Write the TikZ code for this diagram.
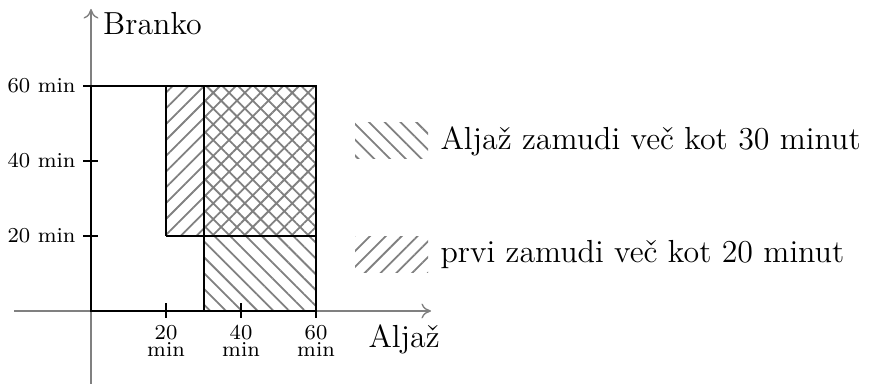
\documentclass[tikz,border=0pt]{standalone}
\usepackage{fontspec}
\usetikzlibrary{patterns.meta,arrows.meta}
\begin{document}
\begin{tikzpicture}[x=0.376pt,y=-0.376pt,
  axisline/.style={draw=gray, line width=0.5pt, -{To[length=3.6pt,width=5.6pt]}},
  framebox/.style={draw=black, line width=1.12pt},
  innerline/.style={draw=black, line width=0.75pt},
  tickmark/.style={draw=black, line width=0.56pt},
  hatchNE/.style={pattern={Lines[angle=45,distance=4.2pt,line width=0.68pt]}, pattern color=gray},
  hatchNW/.style={pattern={Lines[angle=-45,distance=4.2pt,line width=0.68pt]}, pattern color=gray},
  hatchX/.style={pattern={Hatch[angle=45,distance=4.2pt,line width=0.68pt]}, pattern color=gray},
  ylab/.style={anchor=east, inner sep=0pt, font=\fontsize{8}{9.5}\selectfont},
  xlab/.style={anchor=base, inner sep=0pt, font=\fontsize{8}{9.5}\selectfont},
  txt/.style={anchor=base west, inner sep=0pt, font=\fontsize{12}{14.5}\selectfont}]
\useasboundingbox (0,0) rectangle (880,385);

% coordinates of the plot
\coordinate (O) at (91,311);
\coordinate (A20) at (166,311);
\coordinate (A40) at (241,311);
\coordinate (A60) at (316,311);
\coordinate (B20) at (91,236);
\coordinate (B40) at (91,161);
\coordinate (B60) at (91,86);

% hatched regions
\path[hatchNE] (166,86) rectangle (204,236);
\path[hatchX] (204,86) rectangle (316,236);
\path[hatchNW] (204,236) rectangle (316,311);

% axes
\coordinate (xs) at (14,311);
\coordinate (xe) at (431,311);
\coordinate (ys) at (91,384);
\coordinate (ye) at (91,9);
\draw[axisline] (xs) -- (xe);
\draw[axisline] (ys) -- (ye);

% inner lines
\draw[innerline] (166,236) -- (166,86);
\draw[innerline] (166,236) -- (316,236);
\draw[innerline] (204,311) -- (204,86);

% frame
\draw[framebox] (O) rectangle (316,86);

% ticks
\foreach \c in {A20,A40,A60}{
  \draw[tickmark] (\c) ++(0,-7.5) -- ++(0,15);
}
\foreach \c in {B20,B40,B60}{
  \draw[tickmark] (\c) ++(-8,0) -- ++(15,0);
}

% tick labels
\node[ylab] (l60) at (76,86) {60 min};
\node[ylab] (l40) at (76,161) {40 min};
\node[ylab] (l20) at (76,236) {20 min};
\node[xlab] (n20) at (166,340) {20};
\node[xlab] (u20) at (166,356.5) {min};
\node[xlab] (n40) at (241,340) {40};
\node[xlab] (u40) at (241,356.5) {min};
\node[xlab] (n60) at (316,340) {60};
\node[xlab] (u60) at (316,356.5) {min};

% axis labels
\node[anchor=base, inner sep=0pt, font=\fontsize{12}{14.5}\selectfont] (branko) at (152.5,34.3) {Branko};
\node[txt] (aljaz) at (368,347) {Aljaž};

% legend
\path[hatchNW] (355,123) rectangle (428,159);
\path[hatchNE] (355,237) rectangle (428,273);
\node[txt] (leg1) at (440,150) {Aljaž zamudi več kot 30 minut};
\node[txt] (leg2) at (440,263) {prvi zamudi več kot 20 minut};
\end{tikzpicture}
\end{document}
